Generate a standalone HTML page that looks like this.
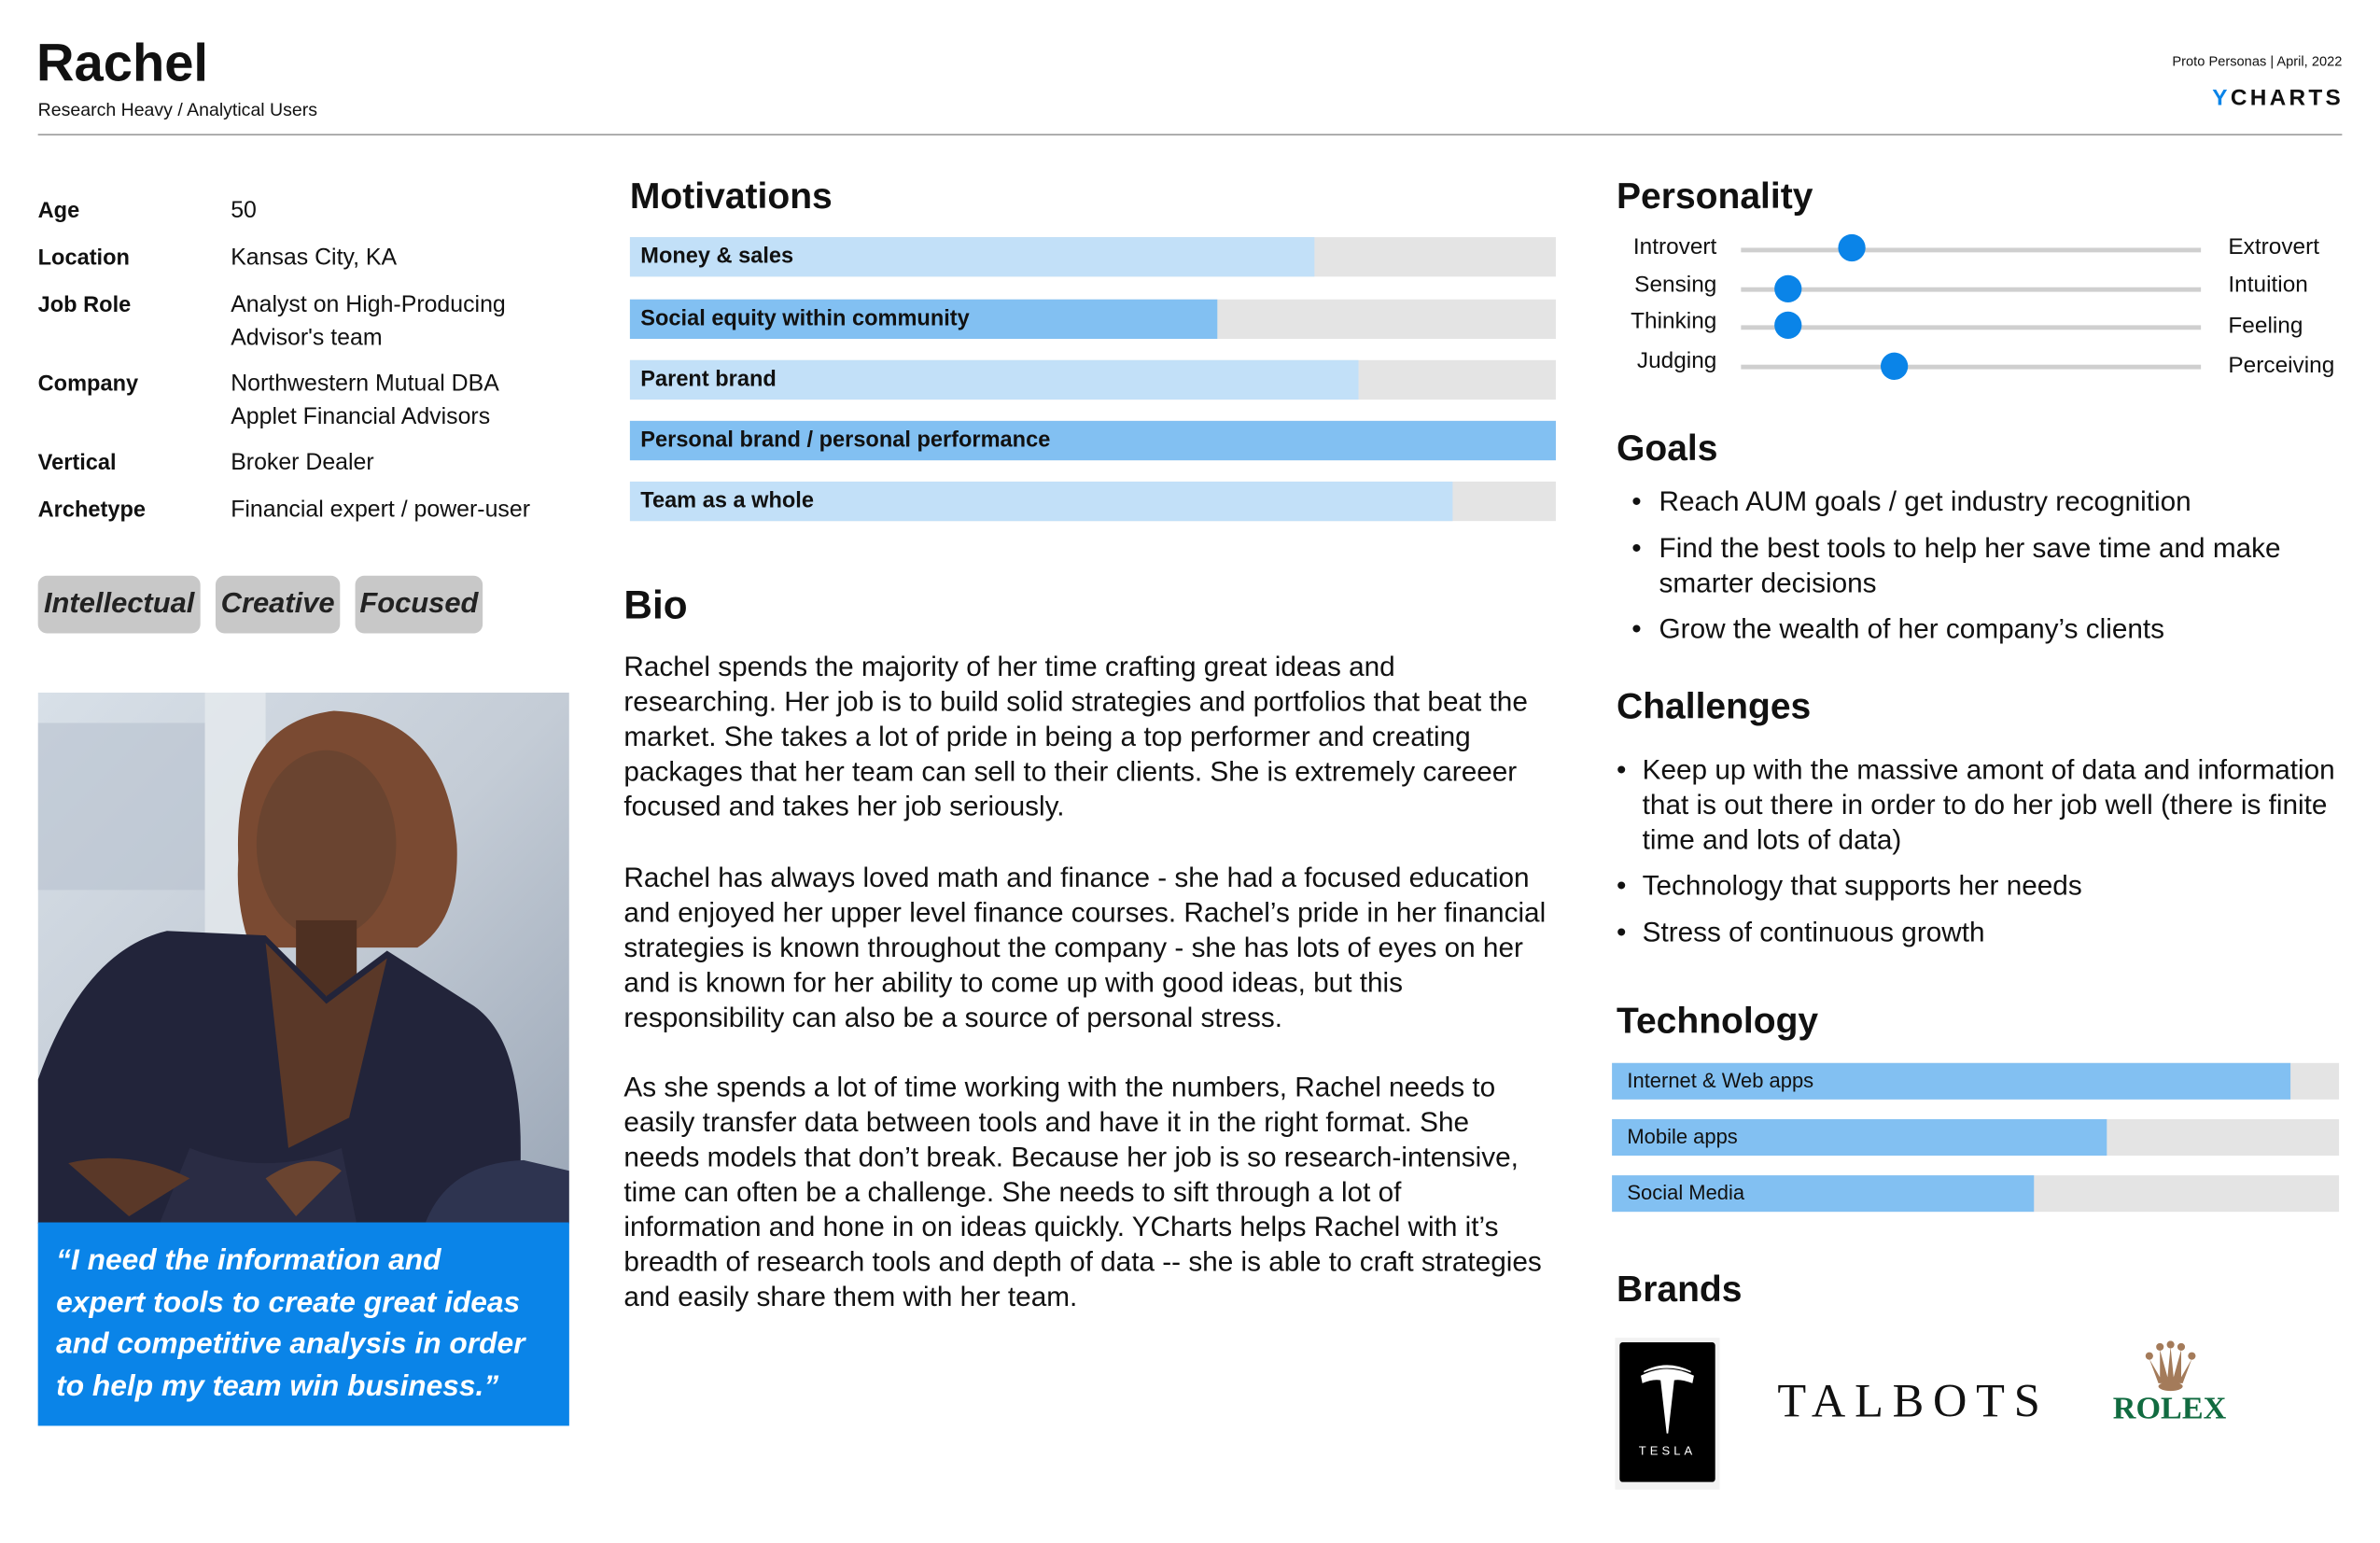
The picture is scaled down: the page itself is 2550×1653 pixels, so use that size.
<!DOCTYPE html>
<html><head><meta charset="utf-8">
<style>
html,body{margin:0;padding:0;background:#fff;}
body{width:2550px;height:1650px;overflow:hidden;position:relative;}
#c{position:absolute;left:0;top:2px;width:1568px;height:1015px;transform:scale(1.6263);transform-origin:0 0;font-family:"Liberation Sans",Arial,sans-serif;color:#111;}
.a{position:absolute;white-space:nowrap;}
.b{font-weight:bold;}
.lab{font-size:14.5px;line-height:18px;font-weight:bold;}
.val{font-size:15.3px;line-height:22px;}
.bar{position:absolute;height:26px;background:#e4e4e4;}
.bar .f{position:absolute;left:0;top:0;height:100%;}
.bar span{position:absolute;left:7px;top:0;line-height:26px;font-size:14.5px;font-weight:bold;}
.h{font-weight:bold;font-size:24px;line-height:28px;}
.p{font-size:18.3px;line-height:23px;}
.tag{position:absolute;top:378px;height:38px;background:#c8c8c8;border-radius:6px;font-style:italic;font-weight:bold;font-size:19px;line-height:38px;text-align:center;color:#222;}
.sl{font-size:15px;line-height:18px;}
.trk{position:absolute;left:1147px;width:303px;height:3px;background:#cfcfcf;}
.kn{position:absolute;width:18px;height:18px;border-radius:50%;background:#0a84e8;}
.tb{position:absolute;left:1062px;width:479px;height:24px;background:#e4e4e4;}
.tb .f{position:absolute;left:0;top:0;height:100%;background:#82c0f2;}
.tb span{position:absolute;left:10px;line-height:24px;font-size:13.5px;}
</style></head><body><div id="c">

<div class="a b" style="left:24px;top:21px;font-size:34.5px;line-height:40px;">Rachel</div>
<div class="a" style="left:25px;top:64px;font-size:12px;line-height:14px;">Research Heavy / Analytical Users</div>
<div class="a" style="right:25px;top:34px;font-size:9px;line-height:10px;">Proto Personas | April, 2022</div>
<div class="a b" style="right:24px;top:55px;font-size:15px;line-height:17px;letter-spacing:2px;"><span style="color:#0a84e8">Y</span>CHARTS</div>
<div class="a" style="left:25px;top:87px;width:1518px;height:1px;background:#999;"></div>

<div class="a lab" style="left:25px;top:129px;">Age</div><div class="a val" style="left:152px;top:127px;">50</div>
<div class="a lab" style="left:25px;top:160px;">Location</div><div class="a val" style="left:152px;top:158px;">Kansas City, KA</div>
<div class="a lab" style="left:25px;top:191px;">Job Role</div><div class="a val" style="left:152px;top:189px;">Analyst on High-Producing<br>Advisor's team</div>
<div class="a lab" style="left:25px;top:243px;">Company</div><div class="a val" style="left:152px;top:241px;">Northwestern Mutual DBA<br>Applet Financial Advisors</div>
<div class="a lab" style="left:25px;top:295px;">Vertical</div><div class="a val" style="left:152px;top:293px;">Broker Dealer</div>
<div class="a lab" style="left:25px;top:326px;">Archetype</div><div class="a val" style="left:152px;top:324px;">Financial expert / power-user</div>

<div class="tag" style="left:25px;width:107px;">Intellectual</div>
<div class="tag" style="left:142px;width:82px;">Creative</div>
<div class="tag" style="left:234px;width:84px;">Focused</div>

<svg class="a" style="left:25px;top:455px;" width="350" height="350" viewBox="0 0 350 350">
<defs><linearGradient id="bg" x1="0" y1="0" x2="1" y2="1"><stop offset="0" stop-color="#d8e0e8"/><stop offset="0.5" stop-color="#c4ccd6"/><stop offset="1" stop-color="#9aa6b6"/></linearGradient></defs>
<rect width="350" height="350" fill="url(#bg)"/>
<rect x="0" y="20" width="110" height="110" fill="#b7c2cf" opacity="0.6"/>
<rect x="110" y="0" width="40" height="160" fill="#e8ecf0" opacity="0.7"/>
<path d="M132 110 Q128 20 195 12 Q268 15 276 100 Q278 150 250 168 L140 168 Q130 140 132 110Z" fill="#7a4a32"/>
<ellipse cx="190" cy="100" rx="46" ry="62" fill="#6a4430"/>
<rect x="170" y="150" width="40" height="50" fill="#4e3022"/>
<path d="M0 255 Q30 170 85 157 L150 160 L190 200 L230 170 L285 205 Q318 225 318 300 L318 350 L0 350Z" fill="#22243a"/>
<path d="M150 165 L190 205 L230 175 L205 280 L165 300Z" fill="#5a3828"/>
<path d="M100 300 Q150 320 200 300 L210 350 L80 350Z" fill="#2a2c44"/>
<path d="M20 310 Q60 300 100 320 L60 345Z" fill="#5a3828"/>
<path d="M150 320 Q180 300 200 315 L170 345Z" fill="#6a4430"/>
<path d="M255 350 Q270 310 320 308 L350 315 L350 350Z" fill="#2e3450"/>
</svg>
<div class="a" style="left:25px;top:804px;width:350px;height:134px;background:#0a84e8;"></div>
<div class="a" style="left:37px;top:816px;color:#fff;font-style:italic;font-weight:bold;font-size:19.5px;line-height:27.7px;">“I need the information and<br>expert tools to create great ideas<br>and competitive analysis in order<br>to help my team win business.”</div>

<div class="a h" style="left:415px;top:115px;">Motivations</div>
<div class="bar" style="left:415px;top:155px;width:610px;"><div class="f" style="width:451px;background:#c2e0f8"></div><span>Money &amp; sales</span></div>
<div class="bar" style="left:415px;top:196px;width:610px;"><div class="f" style="width:387px;background:#82c0f2"></div><span>Social equity within community</span></div>
<div class="bar" style="left:415px;top:236px;width:610px;"><div class="f" style="width:480px;background:#c2e0f8"></div><span>Parent brand</span></div>
<div class="bar" style="left:415px;top:276px;width:610px;"><div class="f" style="width:610px;background:#82c0f2"></div><span>Personal brand / personal performance</span></div>
<div class="bar" style="left:415px;top:316px;width:610px;"><div class="f" style="width:542px;background:#c2e0f8"></div><span>Team as a whole</span></div>

<div class="a h" style="left:411px;top:382px;font-size:26px;line-height:30px;">Bio</div>
<div class="a p" style="left:411px;top:426px;">Rachel spends the majority of her time crafting great ideas and<br>researching. Her job is to build solid strategies and portfolios that beat the<br>market. She takes a lot of pride in being a top performer and creating<br>packages that her team can sell to their clients. She is extremely careeer<br>focused and takes her job seriously.</div>
<div class="a p" style="left:411px;top:565px;">Rachel has always loved math and finance - she had a focused education<br>and enjoyed her upper level finance courses. Rachel’s pride in her financial<br>strategies is known throughout the company - she has lots of eyes on her<br>and is known for her ability to come up with good ideas, but this<br>responsibility can also be a source of personal stress.</div>
<div class="a p" style="left:411px;top:703px;">As she spends a lot of time working with the numbers, Rachel needs to<br>easily transfer data between tools and have it in the right format. She<br>needs models that don’t break. Because her job is so research-intensive,<br>time can often be a challenge. She needs to sift through a lot of<br>information and hone in on ideas quickly. YCharts helps Rachel with it’s<br>breadth of research tools and depth of data -- she is able to craft strategies<br>and easily share them with her team.</div>

<div class="a h" style="left:1065px;top:115px;">Personality</div>
<div class="a sl" style="right:437px;top:153px;">Introvert</div>
<div class="a sl" style="right:437px;top:178px;">Sensing</div>
<div class="a sl" style="right:437px;top:202px;">Thinking</div>
<div class="a sl" style="right:437px;top:228px;">Judging</div>
<div class="trk" style="top:162px;"></div><div class="trk" style="top:188px;"></div><div class="trk" style="top:213px;"></div><div class="trk" style="top:239px;"></div>
<div class="kn" style="left:1211px;top:153px;"></div>
<div class="kn" style="left:1169px;top:180px;"></div>
<div class="kn" style="left:1169px;top:204px;"></div>
<div class="kn" style="left:1239px;top:231px;"></div>
<div class="a sl" style="left:1468px;top:153px;">Extrovert</div>
<div class="a sl" style="left:1468px;top:178px;">Intuition</div>
<div class="a sl" style="left:1468px;top:205px;">Feeling</div>
<div class="a sl" style="left:1468px;top:231px;">Perceiving</div>

<div class="a h" style="left:1065px;top:281px;">Goals</div>
<div class="a p" style="left:1075px;top:317px;">•</div><div class="a p" style="left:1093px;top:317px;">Reach AUM goals / get industry recognition</div>
<div class="a p" style="left:1075px;top:348px;">•</div><div class="a p" style="left:1093px;top:348px;">Find the best tools to help her save time and make<br>smarter decisions</div>
<div class="a p" style="left:1075px;top:401px;">•</div><div class="a p" style="left:1093px;top:401px;">Grow the wealth of her company’s clients</div>

<div class="a h" style="left:1065px;top:451px;">Challenges</div>
<div class="a p" style="left:1065px;top:494px;">•</div><div class="a p" style="left:1082px;top:494px;">Keep up with the massive amont of data and information<br>that is out there in order to do her job well (there is finite<br>time and lots of data)</div>
<div class="a p" style="left:1065px;top:570px;">•</div><div class="a p" style="left:1082px;top:570px;">Technology that supports her needs</div>
<div class="a p" style="left:1065px;top:601px;">•</div><div class="a p" style="left:1082px;top:601px;">Stress of continuous growth</div>

<div class="a h" style="left:1065px;top:658px;">Technology</div>
<div class="tb" style="top:699px;"><div class="f" style="width:447px"></div><span>Internet &amp; Web apps</span></div>
<div class="tb" style="top:736px;"><div class="f" style="width:326px"></div><span>Mobile apps</span></div>
<div class="tb" style="top:773px;"><div class="f" style="width:278px"></div><span>Social Media</span></div>

<div class="a h" style="left:1065px;top:835px;">Brands</div>
<div class="a" style="left:1064px;top:880px;width:69px;height:100px;background:#f2f2f2;"></div>
<div class="a" style="left:1067px;top:883px;width:63px;height:92px;background:#000;border-radius:2px;"></div>
<svg class="a" style="left:1067px;top:883px;" width="63" height="92" viewBox="0 0 63 92">
<path d="M14 22 Q31 13 49 22 L48 27 Q40 24 36 25 L32 60 L31 60 L27 25 Q22 24 15 27Z" fill="#fff"/>
<path d="M16 19 Q31 11 47 19 L47 20 Q31 14 16 20Z" fill="#fff"/>
</svg>
<div class="a" style="left:1067px;top:950px;width:63px;text-align:center;color:#fff;font-size:8px;letter-spacing:2.5px;line-height:10px;">TESLA</div>
<div class="a" style="left:1171px;top:903px;font-family:'Liberation Serif',serif;font-size:31px;line-height:38px;letter-spacing:6px;color:#111;">TALBOTS</div>
<svg class="a" style="left:1412px;top:882px;" width="36" height="36" viewBox="0 0 36 36">
<g fill="#a47b5a"><circle cx="4" cy="10" r="2.5"/><circle cx="11" cy="4" r="2.5"/><circle cx="18" cy="2.5" r="2.5"/><circle cx="25" cy="4" r="2.5"/><circle cx="32" cy="10" r="2.5"/>
<path d="M4 12 L10 28 L26 28 L32 12 L25 24 L25 6 L20 24 L18 4 L16 24 L11 6 L11 24Z"/><ellipse cx="18" cy="30" rx="8" ry="3"/></g></svg>
<div class="a" style="left:1392px;top:914px;font-family:'Liberation Serif',serif;font-weight:bold;font-size:21px;line-height:24px;color:#116b40;">ROLEX</div>

</div></body></html>
